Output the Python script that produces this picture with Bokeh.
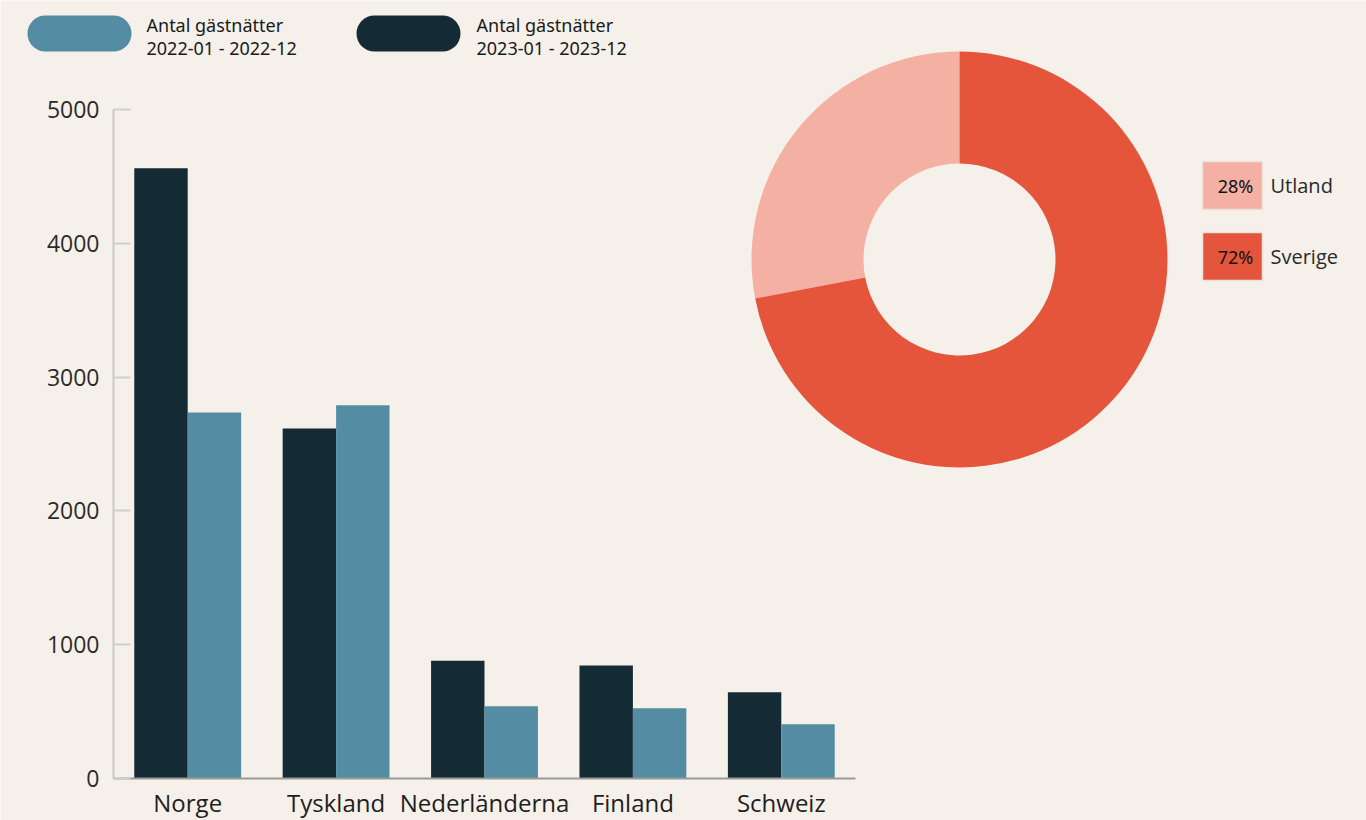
import numpy as np
from bokeh.plotting import figure
from bokeh.models import ColumnDataSource, Range1d, LinearAxis, FixedTicker
from bokeh.transform import dodge
from bokeh.core.properties import value
from bokeh.embed import file_html
from bokeh.resources import INLINE

# ---------------- data ----------------
countries = ["Norge", "Tyskland", "Nederländerna", "Finland", "Schweiz"]
nights_2023 = [4560, 2615, 880, 845, 645]
nights_2022 = [2735, 2790, 540, 525, 405]
y_ticks = [0, 1000, 2000, 3000, 4000, 5000]
series_labels = ["Antal gästnätter\n2022-01 - 2022-12", "Antal gästnätter\n2023-01 - 2023-12"]
pie_labels = ["Utland", "Sverige"]
pie_shares = [28, 72]

# ---------------- style ----------------
BG = "#f5f1ea"
DARK = "#142a35"
LIGHT = "#548ca3"
PINK = "#f5b0a4"
RED = "#e5553c"

W, H = 1366, 820
AX_LEFT = 113                # y axis position (px)
ZERO_Y = 778                 # y = 0 (px from top)
TOP_Y = 109                  # y = 5000
UNIT_X = 148.4               # px per category
YMAX = 5000
PX_PER = (ZERO_Y - TOP_Y) / YMAX

x_start = -0.5 - AX_LEFT / UNIT_X
x_end = -0.5 + (W - AX_LEFT) / UNIT_X
y_start = -(H - ZERO_Y) / PX_PER
y_end = YMAX + TOP_Y / PX_PER

# donut centre (px); the "pie" ranges use 1 unit = 1 px, origin at the centre
PCX, PCY = 959, 259
pie_x = Range1d(-PCX, W - PCX)
pie_y = Range1d(-(H - PCY), PCY)


def px(x):
    return x - PCX


def py(y):
    return PCY - y


p = figure(width=W, height=H, x_range=Range1d(x_start, x_end), y_range=Range1d(y_start, y_end),
           x_axis_type=None, y_axis_type=None, toolbar_location=None, output_backend="svg",
           min_border=0, background_fill_color=BG, border_fill_color=BG, outline_line_color=None)
p.extra_x_ranges = {"pie": pie_x}
p.extra_y_ranges = {"pie": pie_y}

# ---------------- bars ----------------
src = ColumnDataSource(dict(x=list(range(len(countries))), y23=nights_2023, y22=nights_2022))
BW = 0.36
p.vbar(x=dodge("x", -BW / 2), top="y23", width=BW, fill_color=DARK, line_color=None, source=src)
p.vbar(x=dodge("x", BW / 2), top="y22", width=BW, fill_color=LIGHT, line_color=None, source=src)

yax = LinearAxis(fixed_location=-0.5, bounds=(0, YMAX), ticker=FixedTicker(ticks=y_ticks),
                 axis_line_color="#c8c8c8", axis_line_width=2,
                 major_tick_in=17, major_tick_out=0, major_tick_line_color="#cfcfcf", major_tick_line_width=2,
                 minor_tick_line_color=None, major_label_standoff=14,
                 major_label_text_font="Open Sans", major_label_text_font_size="23px",
                 major_label_text_color="#2b2b2b")
xax = LinearAxis(fixed_location=0, bounds=(-0.5, len(countries) - 0.5),
                 ticker=FixedTicker(ticks=list(range(len(countries)))),
                 major_label_overrides={i: c for i, c in enumerate(countries)},
                 axis_line_color="#9a9a9a", axis_line_width=2,
                 major_tick_in=0, major_tick_out=0, minor_tick_line_color=None,
                 major_label_standoff=7,
                 major_label_text_font="Open Sans", major_label_text_font_size="24px",
                 major_label_text_color="#1e1e1e")
p.add_layout(yax, "left")
p.add_layout(xax, "below")

# ---------------- series legend (pills) ----------------
leg_idx = np.arange(len(series_labels))
leg = ColumnDataSource(dict(
    x=px(79 + 329 * leg_idx), y=[py(33)] * len(series_labels),
    tx=px(146 + 330 * leg_idx), ty=[py(36)] * len(series_labels),
    color=[LIGHT, DARK], label=series_labels))
p.rect(x="x", y="y", width=104, height=36, border_radius=18, fill_color="color", line_color=None,
       source=leg, x_range_name="pie", y_range_name="pie")
p.text(x="tx", y="ty", text="label", source=leg, x_range_name="pie", y_range_name="pie",
       text_font=value("Noto Sans"), text_font_size="18px", text_color="#1a1a1a",
       text_baseline="middle", text_align="left", text_line_height=0.95)

# ---------------- donut ----------------
shares = np.array(pie_shares, dtype=float) / sum(pie_shares)
cum = np.concatenate([[0.0], np.cumsum(shares)])
pie = ColumnDataSource(dict(
    start=np.pi / 2 + 2 * np.pi * cum[:-1], end=np.pi / 2 + 2 * np.pi * cum[1:],
    color=[PINK, RED], label=pie_labels, pct=[f"{s}%" for s in pie_shares],
    bx=[px(1232)] * len(pie_labels), by=py(185 + 71 * np.arange(len(pie_labels))),
    tx=[px(1235)] * len(pie_labels), lx=[px(1270)] * len(pie_labels)))
p.annular_wedge(x=0, y=0, inner_radius=96, outer_radius=208, start_angle="start", end_angle="end",
                direction="anticlock", fill_color="color", line_color=None, source=pie,
                x_range_name="pie", y_range_name="pie")

# donut legend
p.rect(x="bx", y="by", width=60, height=48, fill_color="color", line_color="#eee2dc", line_width=1.5,
       source=pie, x_range_name="pie", y_range_name="pie")
p.text(x="tx", y="by", text="pct", source=pie, x_range_name="pie", y_range_name="pie",
       text_font=value("Noto Sans"), text_font_size="18px", text_color="#111111",
       text_baseline="middle", text_align="center")
p.text(x="lx", y="by", text="label", source=pie, x_range_name="pie", y_range_name="pie",
       text_font=value("Open Sans"), text_font_size="20px", text_color="#2a2a2a",
       text_baseline="middle", text_align="left")

open("out.html", "w").write(file_html(p, INLINE))
